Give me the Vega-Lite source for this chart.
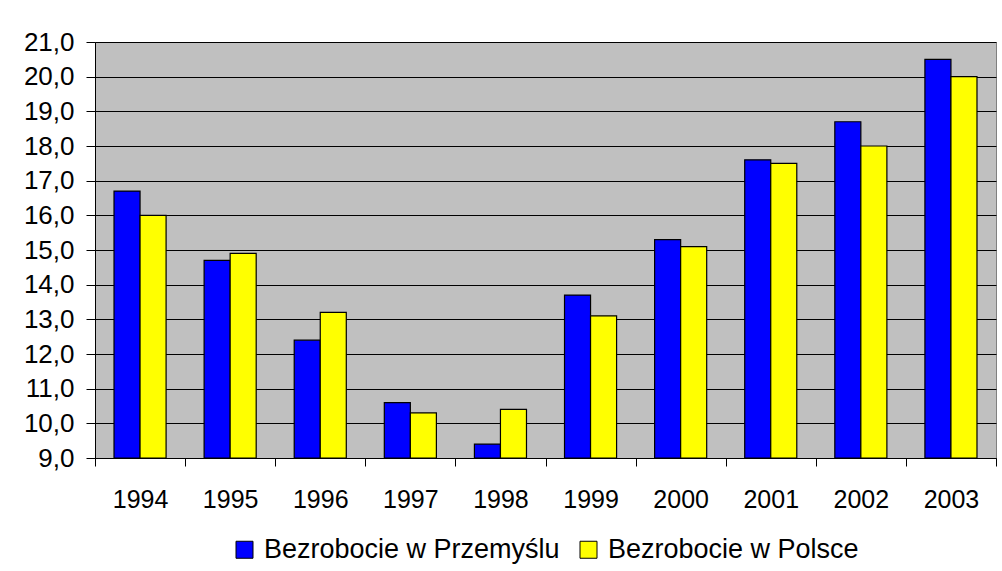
{
  "$schema": "https://vega.github.io/schema/vega-lite/v6.json",
  "width": 901,
  "height": 416,
  "autosize": {"type": "none"},
  "padding": {"left": 95, "top": 42, "right": 6, "bottom": 113},
  "background": "white",
  "data": {
    "values": [
      {"year": "1994", "series": "Bezrobocie w Przemyślu", "value": 16.7},
      {"year": "1994", "series": "Bezrobocie w Polsce", "value": 16.0},
      {"year": "1995", "series": "Bezrobocie w Przemyślu", "value": 14.7},
      {"year": "1995", "series": "Bezrobocie w Polsce", "value": 14.9},
      {"year": "1996", "series": "Bezrobocie w Przemyślu", "value": 12.4},
      {"year": "1996", "series": "Bezrobocie w Polsce", "value": 13.2},
      {"year": "1997", "series": "Bezrobocie w Przemyślu", "value": 10.6},
      {"year": "1997", "series": "Bezrobocie w Polsce", "value": 10.3},
      {"year": "1998", "series": "Bezrobocie w Przemyślu", "value": 9.4},
      {"year": "1998", "series": "Bezrobocie w Polsce", "value": 10.4},
      {"year": "1999", "series": "Bezrobocie w Przemyślu", "value": 13.7},
      {"year": "1999", "series": "Bezrobocie w Polsce", "value": 13.1},
      {"year": "2000", "series": "Bezrobocie w Przemyślu", "value": 15.3},
      {"year": "2000", "series": "Bezrobocie w Polsce", "value": 15.1},
      {"year": "2001", "series": "Bezrobocie w Przemyślu", "value": 17.6},
      {"year": "2001", "series": "Bezrobocie w Polsce", "value": 17.5},
      {"year": "2002", "series": "Bezrobocie w Przemyślu", "value": 18.7},
      {"year": "2002", "series": "Bezrobocie w Polsce", "value": 18.0},
      {"year": "2003", "series": "Bezrobocie w Przemyślu", "value": 20.5},
      {"year": "2003", "series": "Bezrobocie w Polsce", "value": 20.0}
    ]
  },
  "mark": {"type": "bar", "stroke": "black", "strokeWidth": 1.2},
  "encoding": {
    "x": {
      "field": "year",
      "type": "nominal",
      "scale": {"paddingInner": 0, "paddingOuter": 0},
      "axis": {
        "title": null,
        "labelAngle": 0,
        "tickBand": "extent",
        "tickSize": 8,
        "tickColor": "black",
        "domainColor": "black",
        "labelFont": "Liberation Sans",
        "labelFontSize": 25,
        "labelColor": "black",
        "labelPadding": 21
      }
    },
    "xOffset": {
      "field": "series",
      "type": "nominal",
      "sort": ["Bezrobocie w Przemyślu", "Bezrobocie w Polsce"],
      "scale": {"paddingInner": 0, "paddingOuter": 0.73}
    },
    "y": {
      "field": "value",
      "type": "quantitative",
      "scale": {"domain": [9, 21], "nice": false, "zero": false},
      "axis": {
        "title": null,
        "values": [9, 10, 11, 12, 13, 14, 15, 16, 17, 18, 19, 20, 21],
        "labelExpr": "replace(format(datum.value, '.1f'), '.', ',')",
        "grid": true,
        "gridColor": "black",
        "gridWidth": 1,
        "gridOpacity": 1,
        "tickSize": 9,
        "tickColor": "black",
        "domainColor": "black",
        "labelFont": "Liberation Sans",
        "labelFontSize": 26,
        "labelColor": "black",
        "labelPadding": 12
      }
    },
    "y2": {"datum": 9},
    "color": {
      "field": "series",
      "type": "nominal",
      "scale": {
        "domain": ["Bezrobocie w Przemyślu", "Bezrobocie w Polsce"],
        "range": ["#0000FF", "#FFFF00"]
      },
      "legend": {
        "title": null,
        "orient": "none",
        "legendX": 136,
        "legendY": 494,
        "direction": "horizontal",
        "symbolType": "square",
        "symbolSize": 289,
        "symbolStrokeColor": "black",
        "symbolStrokeWidth": 1,
        "symbolOpacity": 1,
        "labelFont": "Liberation Sans",
        "labelFontSize": 27,
        "labelColor": "black",
        "labelOffset": 6,
        "labelLimit": 500,
        "columnPadding": 15
      }
    }
  },
  "config": {
    "view": {"fill": "#C0C0C0", "stroke": "#808080", "strokeWidth": 1}
  }
}
